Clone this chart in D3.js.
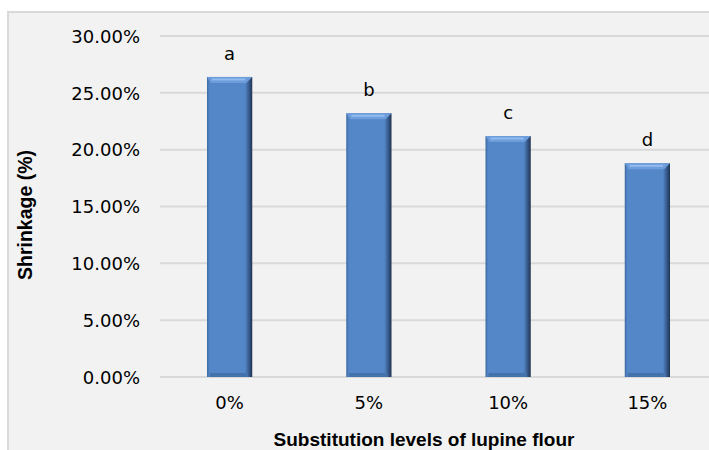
<!DOCTYPE html>
<html>
<head>
<meta charset="utf-8">
<script src="https://cdn.jsdelivr.net/npm/d3@7"></script>
<style>
body { margin:0; background:#fff; }
text { font-family: "DejaVu Sans", Arial, sans-serif; fill:#000; }
.title { font-family: "Liberation Sans", Arial, sans-serif; font-weight: bold; }
</style>
</head>
<body>
<div id="chart"></div>
<script>
// Data
var categories = ["0%", "5%", "10%", "15%"];
var shrinkage = [0.264, 0.232, 0.212, 0.188];
var letters = ["a", "b", "c", "d"];
var yTicks = [0, 0.05, 0.10, 0.15, 0.20, 0.25, 0.30];

var W = 709, H = 450;
var svg = d3.select("#chart").append("svg").attr("width", W).attr("height", H);

// bevel gradient across the bar
var defs = svg.append("defs");
var hg = defs.append("linearGradient").attr("id", "bevelH").attr("x1", "0").attr("x2", "1").attr("y1", "0").attr("y2", "0");
hg.append("stop").attr("offset", "0%").attr("stop-color", "#3d6aa3");
hg.append("stop").attr("offset", "6%").attr("stop-color", "#5487c8");
hg.append("stop").attr("offset", "84%").attr("stop-color", "#5487c8");
hg.append("stop").attr("offset", "93%").attr("stop-color", "#37598a");
hg.append("stop").attr("offset", "100%").attr("stop-color", "#1f3350");

// chart area
svg.append("rect").attr("x", 8).attr("y", 12).attr("width", W).attr("height", H)
	.attr("fill", "#f2f2f2").attr("stroke", "#d9d9d9").attr("stroke-width", 2);

var pLeft = 160, pRight = 717, pTop = 36, pBottom = 377;
var x = d3.scaleBand().domain(categories).range([pLeft, pRight]).paddingInner(0.675).paddingOuter(0.3375);
var y = d3.scaleLinear().domain([0, 0.30]).range([pBottom, pTop]);

// gridlines
svg.append("g").selectAll("line").data(yTicks).enter().append("line")
	.attr("x1", pLeft).attr("x2", W)
	.attr("y1", function(d){ return y(d); }).attr("y2", function(d){ return y(d); })
	.attr("stroke", "#d9d9d9").attr("stroke-width", 2);

// y axis labels
var yAxis = d3.axisLeft(y).tickValues(yTicks).tickSize(0).tickPadding(20).tickFormat(d3.format(".2%"));
var gy = svg.append("g").attr("transform", "translate(" + pLeft + ",0)").call(yAxis);
gy.select(".domain").remove();
gy.selectAll("text").style("font-size", "18px").style("font-family", null).attr("dy", "0.35em");

// x axis labels
var xAxis = d3.axisBottom(x).tickSize(0).tickPadding(19);
var gx = svg.append("g").attr("transform", "translate(0," + pBottom + ")").call(xAxis);
gx.select(".domain").remove();
gx.selectAll("text").style("font-size", "18px").style("font-family", null);

// bars
var bars = svg.append("g").selectAll("g").data(shrinkage).enter().append("g");
bars.append("rect")
	.attr("x", function(d, i){ return x(categories[i]); })
	.attr("y", function(d){ return y(d); })
	.attr("width", x.bandwidth())
	.attr("height", function(d){ return pBottom - y(d); })
	.attr("fill", "url(#bevelH)");
// top highlight bevel
bars.append("path")
	.attr("d", function(d, i){
		var x0 = x(categories[i]), x1 = x0 + x.bandwidth(), t = y(d);
		return "M" + x0 + "," + t + "L" + x1 + "," + t + "L" + (x1 - 6) + "," + (t + 6) + "L" + (x0 + 4) + "," + (t + 6) + "Z";
	})
	.attr("fill", "#6d9ddb");
bars.append("rect")
	.attr("x", function(d, i){ return x(categories[i]) + 5; })
	.attr("y", function(d){ return y(d) + 1.5; })
	.attr("width", x.bandwidth() - 12)
	.attr("height", 2)
	.attr("fill", "#92bbef");
// bottom shade
bars.append("rect")
	.attr("x", function(d, i){ return x(categories[i]) + 3; })
	.attr("y", pBottom - 4)
	.attr("width", x.bandwidth() - 7)
	.attr("height", 4)
	.attr("fill", "#4472ab");

// letters
svg.append("g").selectAll("text").data(shrinkage).enter().append("text")
	.attr("x", function(d, i){ return x(categories[i]) + x.bandwidth() / 2; })
	.attr("y", function(d){ return y(d) - 17; })
	.attr("text-anchor", "middle")
	.style("font-size", "18px")
	.text(function(d, i){ return letters[i]; });

// axis titles
svg.append("text").attr("class", "title").attr("x", 424).attr("y", 446).attr("text-anchor", "middle")
	.style("font-size", "19px")
	.text("Substitution levels of lupine flour");
svg.append("text").attr("class", "title").attr("transform", "translate(32,215) rotate(-90)").attr("text-anchor", "middle")
	.style("font-size", "19.5px")
	.text("Shrinkage (%)");
</script>
</body>
</html>
